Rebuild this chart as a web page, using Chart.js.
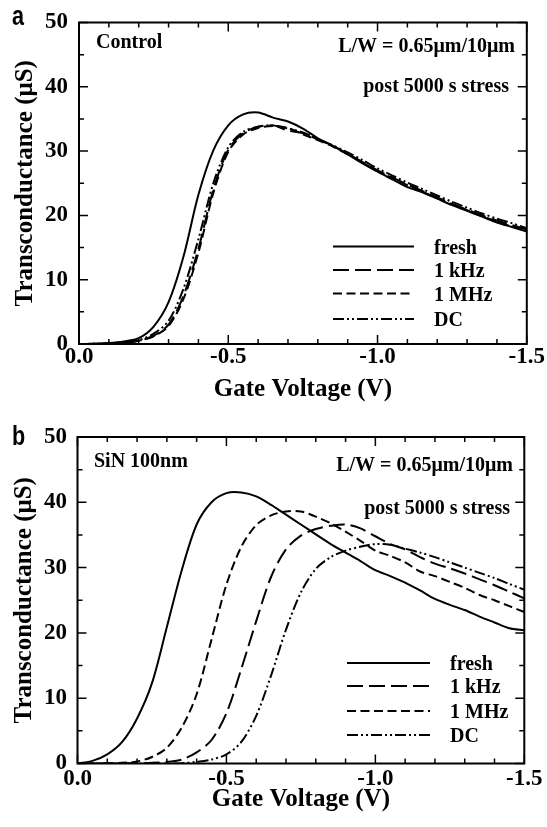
<!DOCTYPE html>
<html>
<head>
<meta charset="utf-8">
<script src="https://cdn.jsdelivr.net/npm/chart.js@4.4.1/dist/chart.umd.min.js"></script>
<style>
  html, body { margin: 0; padding: 0; background: #fff; }
  #wrap { position: relative; width: 547px; height: 827px; }
  canvas { position: absolute; left: 0; }
  #chartA { top: 0; }
  #chartB { top: 410px; }
</style>
</head>
<body>
<div id="wrap">
  <canvas id="chartA" width="547" height="410"></canvas>
  <canvas id="chartB" width="547" height="417"></canvas>
</div>
<script>
// gate voltage sweep (V)
const gateVoltage = [0, -0.05, -0.1, -0.15, -0.2, -0.25, -0.3, -0.35, -0.4, -0.45, -0.5,
  -0.55, -0.6, -0.65, -0.7, -0.75, -0.8, -0.85, -0.9, -0.95, -1.0,
  -1.05, -1.1, -1.15, -1.2, -1.25, -1.3, -1.35, -1.4, -1.45, -1.5];

const seriesLabels = ['fresh', '1 kHz', '1 MHz', 'DC'];

// panel a - Control (uS)
const controlFresh = [0, 0.05, 0.15, 0.4, 0.9, 2.7, 6.5, 13.6, 23.2, 30.1, 34.0,
  35.7, 36.0, 35.2, 34.6, 33.5, 32.0, 30.8, 29.5, 28.1, 26.8,
  25.6, 24.4, 23.6, 22.6, 21.6, 20.7, 19.8, 18.9, 18.2, 17.5];
const control1kHz = [0, 0.02, 0.08, 0.2, 0.5, 1.3, 3.0, 7.5, 14.8, 24.0, 30.2,
  32.8, 33.8, 34.0, 33.2, 32.8, 31.8, 30.8, 29.6, 28.3, 27.0,
  25.9, 24.8, 23.8, 22.8, 21.8, 20.9, 20.0, 19.2, 18.5, 17.8];
const control1MHz = [0, 0.02, 0.07, 0.2, 0.5, 1.2, 2.8, 7.0, 14.2, 23.5, 29.9,
  32.6, 33.6, 33.9, 33.6, 32.6, 31.7, 30.7, 29.5, 28.2, 26.9,
  25.8, 24.7, 23.7, 22.7, 21.7, 20.8, 19.9, 19.0, 18.3, 17.6];
const controlDC = [0, 0.03, 0.1, 0.25, 0.6, 1.6, 3.6, 8.6, 16.3, 25.0, 30.6,
  33.0, 33.8, 34.0, 33.5, 32.9, 31.9, 30.9, 29.8, 28.6, 27.3,
  26.2, 25.1, 24.1, 23.1, 22.1, 21.2, 20.3, 19.5, 18.8, 18.0];

// panel b - SiN 100nm (uS)
const sinFresh = [0, 0.4, 1.4, 3.3, 6.9, 12.3, 20.9, 29.6, 36.6, 40.0, 41.4,
  41.5, 40.9, 39.6, 38.1, 36.6, 35.1, 33.6, 32.3, 31.0, 29.6,
  28.7, 27.7, 26.5, 25.2, 24.3, 23.5, 22.5, 21.6, 20.7, 20.4];
const sin1kHz = [0, 0, 0, 0, 0.02, 0.1, 0.25, 0.6, 1.7, 3.6, 7.7,
  14.5, 21.8, 28.6, 32.8, 34.9, 35.9, 36.4, 36.6, 36.0, 34.8,
  33.6, 32.8, 31.6, 30.6, 29.9, 29.1, 28.2, 27.3, 26.3, 25.3];
const sin1MHz = [0, 0, 0.02, 0.1, 0.3, 1.0, 2.4, 5.5, 10.6, 19.0, 27.4,
  33.2, 36.5, 38.0, 38.6, 38.6, 37.8, 36.8, 35.5, 34.1, 32.6,
  31.8, 30.8, 29.4, 28.7, 27.8, 26.9, 25.8, 25.0, 24.1, 23.2];
const sinDC = [0, 0, 0, 0, 0, 0, 0, 0.05, 0.25, 0.6, 1.4,
  3.3, 7.3, 13.5, 20.5, 26.2, 29.8, 31.6, 32.6, 33.2, 33.6,
  33.5, 32.9, 32.3, 31.6, 30.8, 30.0, 29.2, 28.4, 27.5, 26.6];

const seriesDash = [[], [16, 6], [9, 4.5], [11, 3, 2, 3, 2, 3]];
const serif = '"Liberation Serif", "Times New Roman", serif';

// inward ticks on all four sides + frame
const frameTicks = {
  id: 'frameTicks',
  afterDatasetsDraw(chart) {
    const { ctx, chartArea: a, scales: { x, y } } = chart;
    ctx.save();
    ctx.strokeStyle = '#000';
    ctx.lineWidth = 2;
    ctx.strokeRect(a.left, a.top, a.right - a.left, a.bottom - a.top);
    ctx.lineWidth = 1.5;
    ctx.beginPath();
    for (let i = 0; i <= 15; i++) {
      const px = x.getPixelForValue(-i / 10);
      const len = i % 5 === 0 ? 9 : 5;
      ctx.moveTo(px, a.bottom); ctx.lineTo(px, a.bottom - len);
      ctx.moveTo(px, a.top); ctx.lineTo(px, a.top + len);
    }
    for (let v = 0; v <= 50; v += 5) {
      const py = y.getPixelForValue(v);
      const len = v % 10 === 0 ? 9 : 5;
      ctx.moveTo(a.left, py); ctx.lineTo(a.left + len, py);
      ctx.moveTo(a.right, py); ctx.lineTo(a.right - len, py);
    }
    ctx.stroke();
    ctx.restore();
  }
};

// panel letter, notes and the line legend
const annotate = {
  id: 'annotate',
  afterDraw(chart, args, opts) {
    const ctx = chart.ctx;
    ctx.save();
    ctx.fillStyle = '#000';
    ctx.strokeStyle = '#000';
    ctx.textBaseline = 'alphabetic';

    ctx.save();
    ctx.translate(opts.letter.x, opts.letter.y);
    ctx.scale(0.8, 1);
    ctx.font = 'bold 27px "Liberation Sans", Arial, sans-serif';
    ctx.fillText(opts.letter.text, 0, 0);
    ctx.restore();

    ctx.font = 'bold 20px ' + serif;
    opts.notes.forEach(n => {
      ctx.textAlign = n.align;
      ctx.fillText(n.text, n.x, n.y);
    });

    ctx.textAlign = 'left';
    chart.data.datasets.forEach((ds, i) => {
      const yy = opts.legend.rows[i];
      ctx.lineWidth = ds.borderWidth;
      ctx.setLineDash(ds.borderDash);
      ctx.beginPath();
      ctx.moveTo(opts.legend.x0, yy);
      ctx.lineTo(opts.legend.x1, yy);
      ctx.stroke();
      ctx.setLineDash([]);
      ctx.fillText(ds.label, opts.legend.tx, yy + 7);
    });
    ctx.restore();
  }
};

function buildChart(canvasId, seriesList, g) {
  const tickFont = { family: serif, size: 23, weight: 'bold', lineHeight: 1 };
  const titleFont = { family: serif, size: 25, weight: 'bold' };
  return new Chart(document.getElementById(canvasId), {
    type: 'line',
    data: {
      datasets: seriesList.map((s, i) => ({
        label: seriesLabels[i],
        data: gateVoltage.map((v, k) => ({ x: v, y: s[k] })),
        borderColor: '#000',
        borderWidth: 2,
        borderDash: seriesDash[i],
        pointRadius: 0,
        tension: 0.3,
        fill: false
      }))
    },
    options: {
      responsive: false,
      animation: false,
      devicePixelRatio: 1,
      layout: { padding: g.padding },
      plugins: {
        legend: { display: false },
        tooltip: { enabled: false },
        annotate: g.annot
      },
      scales: {
        x: {
          type: 'linear',
          reverse: true,
          min: -1.5,
          max: 0,
          afterFit: s => { s.height = g.xHeight; },
          grid: { display: false, drawTicks: false },
          border: { display: false },
          ticks: {
            stepSize: 0.5, padding: g.xTickPad, color: '#000', font: tickFont,
            maxRotation: 0, autoSkip: false,
            callback: v => v.toFixed(1)
          },
          title: {
            display: true, text: 'Gate Voltage (V)', color: '#000', font: titleFont,
            padding: { top: 0, bottom: g.xTitlePad }
          }
        },
        y: {
          min: 0,
          max: 50,
          afterFit: s => { s.width = g.yWidth; },
          grid: { display: false, drawTicks: false },
          border: { display: false },
          ticks: { stepSize: 10, padding: g.yTickPad, color: '#000', font: tickFont },
          title: {
            display: true, text: 'Transconductance (\u03bcS)', color: '#000', font: titleFont,
            padding: { top: g.yTitlePad, bottom: 0 }
          }
        }
      }
    },
    plugins: [frameTicks, annotate]
  });
}

buildChart('chartA', [controlFresh, control1kHz, control1MHz, controlDC], {
  padding: { left: 0, top: 21, right: 18, bottom: 0 },
  xHeight: 66, yWidth: 79, xTickPad: 2, yTickPad: 11, xTitlePad: 5.5, yTitlePad: 11,
  annot: {
    letter: { text: 'a', x: 12, y: 25 },
    notes: [
      { text: 'Control', x: 96, y: 48, align: 'left' },
      { text: 'L/W = 0.65\u03bcm/10\u03bcm', x: 515, y: 52, align: 'right' },
      { text: 'post 5000 s stress', x: 509, y: 92, align: 'right' }
    ],
    legend: { x0: 333, x1: 414, tx: 434, rows: [246.5, 270, 293.5, 319] }
  }
});

buildChart('chartB', [sinFresh, sin1kHz, sin1MHz, sinDC], {
  padding: { left: 0, top: 27, right: 17, bottom: 0 },
  xHeight: 63.5, yWidth: 77.5, xTickPad: 4.5, yTickPad: 10.5, xTitlePad: 12, yTitlePad: 9.5,
  annot: {
    letter: { text: 'b', x: 12, y: 35 },
    notes: [
      { text: 'SiN 100nm', x: 94, y: 57, align: 'left' },
      { text: 'L/W = 0.65\u03bcm/10\u03bcm', x: 513, y: 61, align: 'right' },
      { text: 'post 5000 s stress', x: 510, y: 104, align: 'right' }
    ],
    legend: { x0: 347, x1: 430, tx: 450, rows: [253, 276, 301, 325] }
  }
});
</script>
</body>
</html>
